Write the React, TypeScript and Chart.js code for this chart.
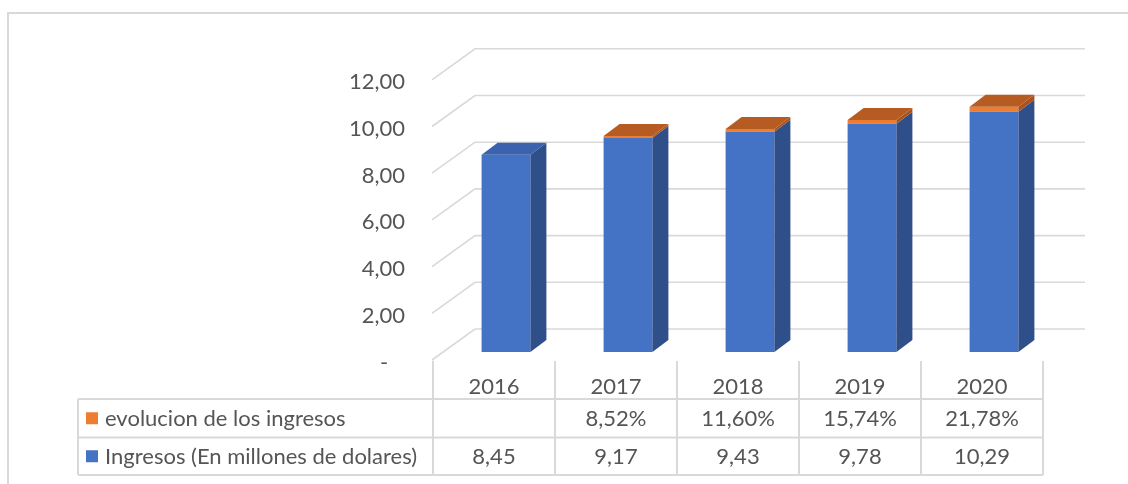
import React, { useEffect, useRef } from "react";
import { Chart, registerables } from "chart.js";

Chart.register(...registerables);

// ---- data ----
const years = ["2016", "2017", "2018", "2019", "2020"];
const ingresos = [8.45, 9.17, 9.43, 9.78, 10.29];
const evolucion: (number | null)[] = [null, 0.0852, 0.116, 0.1574, 0.2178];
const seriesNames = ["evolucion de los ingresos", "Ingresos (En millones de dolares)"];
const yMin = 0;
const yMax = 12;
const yStep = 2;

// ---- style ----
const FONT = "Lato";
const FS = 22;
const TXT = "#555555";
const GRID = "#d9d9d9";
const BLUE = "#4472C4";
const BLUE_SIDE = "#2E4F8A";
const BLUE_TOP = "#3A62AD";
const ORANGE = "#ED7D31";
const ORANGE_SIDE = "#A9531C";
const ORANGE_TOP = "#B65C22";

const fmtNum = (v: number) => v.toFixed(2).replace(".", ",");
const fmtPct = (v: number | null) => (v == null ? "" : (v * 100).toFixed(2).replace(".", ",") + "%");

// 3D offsets relative to the bar plane
const BACK_DX = 30, BACK_DY = -23;
const FRONT_DX = -13, FRONT_DY = 8;
const DEPTH_DX = 16, DEPTH_DY = -12;

const threeD = {
  id: "threeD",
  beforeDraw(chart: any) {
    const ctx = chart.ctx;
    ctx.save();
    ctx.fillStyle = "#ffffff";
    ctx.fillRect(0, 0, chart.width, chart.height);
    ctx.strokeStyle = GRID;
    ctx.lineWidth = 2;
    ctx.beginPath();
    ctx.moveTo(8, chart.height);
    ctx.lineTo(8, 13);
    ctx.lineTo(chart.width, 13);
    ctx.stroke();
    ctx.restore();
  },
  beforeDatasetsDraw(chart: any) {
    const ctx = chart.ctx;
    const ys = chart.scales.y;
    const ca = chart.chartArea;
    ctx.save();
    ctx.strokeStyle = GRID;
    ctx.lineWidth = 1.6;
    for (let v = yMin; v <= yMax; v += yStep) {
      const py = ys.getPixelForValue(v);
      ctx.beginPath();
      ctx.moveTo(ca.left + FRONT_DX, py + FRONT_DY);
      ctx.lineTo(ca.left + BACK_DX, py + BACK_DY);
      ctx.lineTo(ca.right + BACK_DX, py + BACK_DY);
      ctx.stroke();
    }
    ctx.restore();
  },
  afterDatasetsDraw(chart: any) {
    const ctx = chart.ctx;
    const sides = [BLUE_SIDE, ORANGE_SIDE];
    const tops = [BLUE_TOP, ORANGE_TOP];
    const n = years.length;
    ctx.save();
    for (let i = 0; i < n; i++) {
      let topDs = -1;
      chart.data.datasets.forEach((ds: any, d: number) => {
        if (ds.data[i] != null) topDs = d;
      });
      chart.data.datasets.forEach((ds: any, d: number) => {
        if (ds.data[i] == null) return;
        const el = chart.getDatasetMeta(d).data[i] as any;
        const left = el.x - el.width / 2;
        const right = el.x + el.width / 2;
        const top = Math.min(el.y, el.base);
        const bottom = Math.max(el.y, el.base);
        ctx.fillStyle = sides[d];
        ctx.beginPath();
        ctx.moveTo(right, bottom);
        ctx.lineTo(right + DEPTH_DX, bottom + DEPTH_DY);
        ctx.lineTo(right + DEPTH_DX, top + DEPTH_DY);
        ctx.lineTo(right, top);
        ctx.closePath();
        ctx.fill();
        if (d === topDs) {
          ctx.fillStyle = tops[d];
          ctx.beginPath();
          ctx.moveTo(left, top);
          ctx.lineTo(left + DEPTH_DX, top + DEPTH_DY);
          ctx.lineTo(right + DEPTH_DX, top + DEPTH_DY);
          ctx.lineTo(right, top);
          ctx.closePath();
          ctx.fill();
        }
      });
    }
    ctx.restore();
  },
  afterDraw(chart: any) {
    const ctx = chart.ctx;
    const xs = chart.scales.x;
    const ca = chart.chartArea;
    const n = years.length;
    const colW = (ca.right - ca.left) / n;
    const colX = (i: number) => (i < n ? xs.getPixelForValue(i) - colW / 2 : xs.getPixelForValue(n - 1) + colW / 2) + FRONT_DX + 1;
    const r0 = ca.bottom + 47;
    const r1 = ca.bottom + 85.5;
    const r2 = ca.bottom + 123;
    const tableLeft = 78;
    ctx.save();
    ctx.strokeStyle = GRID;
    ctx.lineWidth = 2;
    ctx.beginPath();
    for (let i = 0; i <= n; i++) {
      const x = Math.round(colX(i));
      ctx.moveTo(x, ca.bottom + FRONT_DY + 1);
      ctx.lineTo(x, r2);
    }
    ctx.moveTo(tableLeft, r0);
    ctx.lineTo(tableLeft, r2);
    for (const r of [r0, r1, r2]) {
      ctx.moveTo(tableLeft, r);
      ctx.lineTo(Math.round(colX(n)), r);
    }
    ctx.stroke();

    const rowMid = [(r0 + r1) / 2, (r1 + r2) / 2];
    const keyColors = [ORANGE, BLUE];
    ctx.font = `${FS}px ${FONT}`;
    ctx.textBaseline = "middle";
    for (let r = 0; r < 2; r++) {
      ctx.fillStyle = keyColors[r];
      ctx.fillRect(86, rowMid[r] - 6, 12, 12);
      ctx.fillStyle = TXT;
      ctx.textAlign = "left";
      ctx.fillText(seriesNames[r], 105, rowMid[r] + 1);
    }
    ctx.textAlign = "center";
    for (let i = 0; i < n; i++) {
      const cx = colX(i) + colW / 2;
      ctx.fillText(fmtPct(evolucion[i]), cx, rowMid[0] + 1);
      ctx.fillText(fmtNum(ingresos[i]), cx, rowMid[1] + 1);
    }
    ctx.restore();
  },
};

export default function App() {
  const ref = useRef<HTMLCanvasElement>(null);
  useEffect(() => {
    const chart = new Chart(ref.current as HTMLCanvasElement, {
      type: "bar",
      data: {
        labels: years,
        datasets: [
          {
            label: seriesNames[1],
            data: ingresos,
            backgroundColor: BLUE,
            categoryPercentage: 1,
            barPercentage: 0.4,
          },
          {
            label: seriesNames[0],
            data: evolucion,
            backgroundColor: ORANGE,
            categoryPercentage: 1,
            barPercentage: 0.4,
          },
        ],
      },
      options: {
        responsive: false,
        animation: false,
        devicePixelRatio: 1,
        layout: { padding: { left: 0, right: 73, top: 71.8, bottom: 0 } },
        plugins: { legend: { display: false }, tooltip: { enabled: false } },
        scales: {
          x: {
            stacked: true,
            grid: { display: false, drawTicks: false },
            border: { display: false },
            ticks: {
              color: TXT,
              font: { family: FONT, size: FS },
              labelOffset: -12,
              padding: 22,
              maxRotation: 0,
              autoSkip: false,
            },
            afterFit: (s: any) => {
              s.height = 132;
            },
          },
          y: {
            stacked: true,
            min: yMin,
            max: yMax,
            grid: { display: false, drawTicks: false },
            border: { display: false },
            ticks: {
              stepSize: yStep,
              color: TXT,
              font: { family: FONT, size: FS },
              padding: 40,
              labelOffset: 10.5,
              callback: (v: any) => (Number(v) === 0 ? "-   " : fmtNum(Number(v))),
            },
            afterFit: (s: any) => {
              s.width = 445;
            },
          },
        },
      },
      plugins: [threeD],
    });
    return () => chart.destroy();
  }, []);
  return (
    <div style={{ position: "absolute", left: 0, top: 0, width: 1128, height: 484, background: "#fff" }}>
      <canvas ref={ref} width={1128} height={484} style={{ display: "block", width: 1128, height: 484 }} />
    </div>
  );
}
